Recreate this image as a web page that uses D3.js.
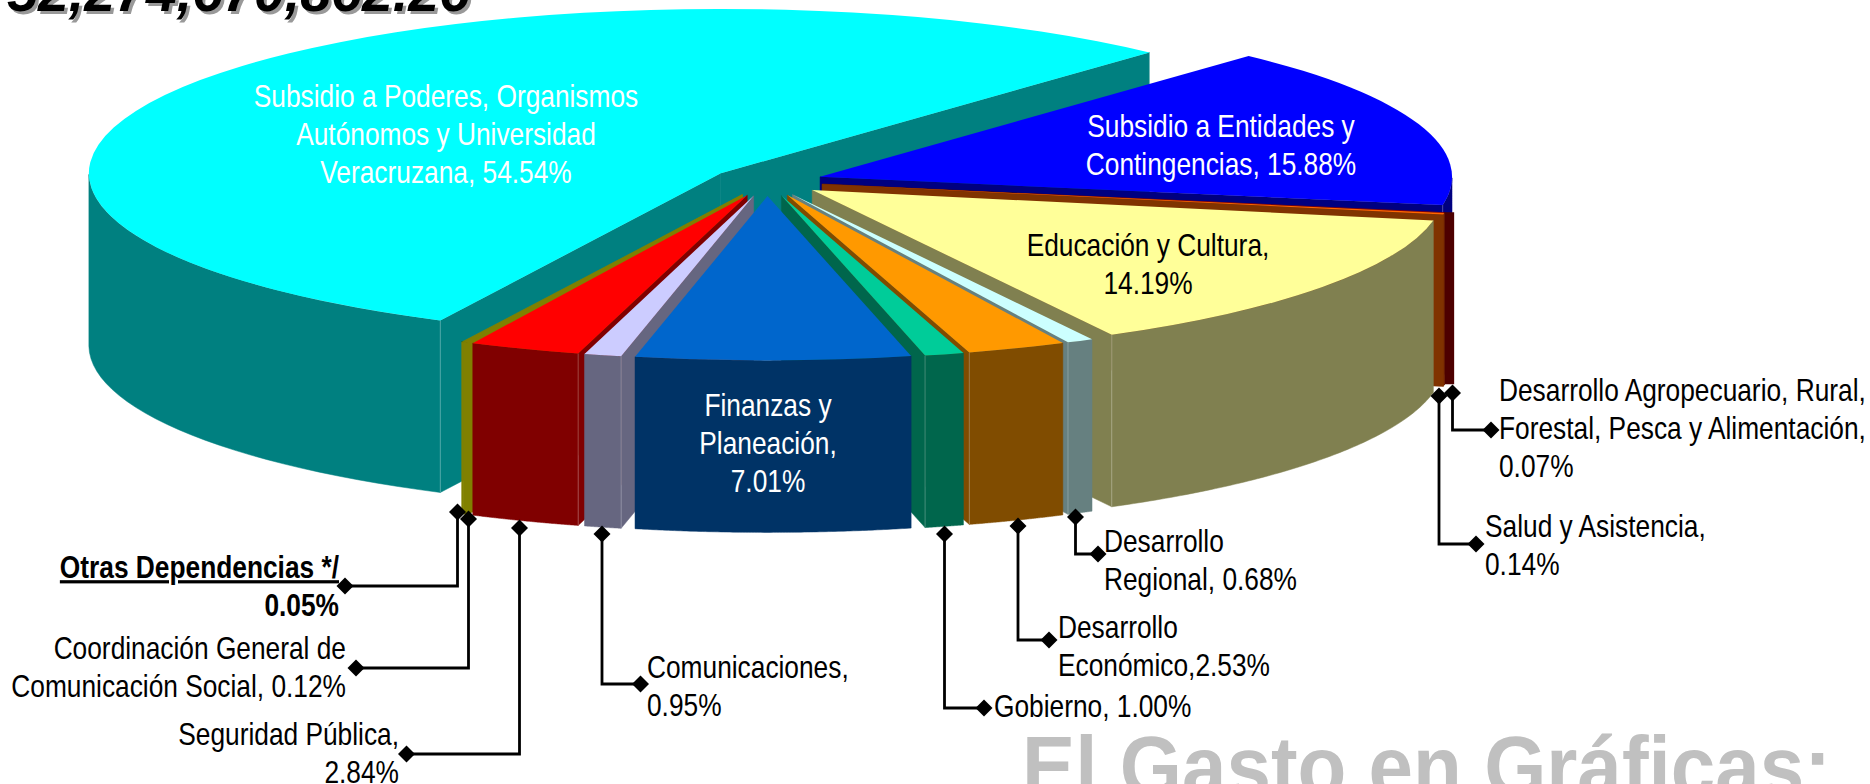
<!DOCTYPE html>
<html>
<head>
<meta charset="utf-8">
<script src="https://cdn.jsdelivr.net/npm/d3@7"></script>
<style>
  html, body { margin: 0; padding: 0; background: #fff; overflow: hidden; }
  text { font-family: "Liberation Sans", Arial, sans-serif; }
</style>
</head>
<body>
<div id="chart"></div>
<script>
// Values, clockwise starting from the back right cut of the pie
var categories = ["Subsidio a Entidades", "Desarrollo Agropecuario", "Salud", "Educación", "Desarrollo Regional", "Desarrollo Económico", "Gobierno", "Finanzas", "Comunicaciones", "Seguridad", "Coordinación", "Otras", "Subsidio a Poderes"];
var values = [15.88, 0.07, 0.14, 14.19, 0.68, 2.53, 1.00, 7.01, 0.95, 2.84, 0.12, 0.05, 54.54];
var topColors = ["#0000FF", "#990000", "#FF6600", "#FFFF99", "#CCFFFF", "#FF9900", "#00CC99", "#0066CC", "#CCCCFF", "#FF0000", "#808000", "#808000", "#00FFFF"];
var sideColors = ["#000080", "#4D0000", "#803300", "#808050", "#668080", "#804C00", "#00664C", "#003366", "#666680", "#800000", "#808000", "#808000", "#008080"];

var titleText = "52,274,670,862.26";
var footerText = "El Gasto en Gráficas:";

// labels inside the slices: [lines, anchor x, first baseline, colour]
var sliceLabels = [
  [["Subsidio a Poderes, Organismos", "Autónomos y Universidad", "Veracruzana, 54.54%"], 446, 107, "#fff"],
  [["Subsidio a Entidades y", "Contingencias, 15.88%"], 1221, 137, "#fff"],
  [["Educación y Cultura,", "14.19%"], 1148, 256, "#000"],
  [["Finanzas y", "Planeación,", "7.01%"], 768, 416, "#fff"]
];

// labels with leader: [lines, anchor, text x, first baseline, leader points, bold]
var leaderLabels = [
  [["Otras Dependencias */", "0.05%"], "end", 339, 578, [[457.5, 512], [457.5, 586], [345, 586]], true],
  [["Coordinación General de", "Comunicación Social, 0.12%"], "end", 346, 659, [[468.5, 519], [468.5, 668], [356, 668]], false],
  [["Seguridad Pública,", "2.84%"], "end", 399, 745, [[519.5, 528], [519.5, 754], [406.5, 754]], false],
  [["Comunicaciones,", "0.95%"], "start", 647, 678, [[602, 534], [602, 684], [640.5, 684]], false],
  [["Gobierno, 1.00%"], "start", 994, 717, [[944.5, 534], [944.5, 708], [984, 708]], false],
  [["Desarrollo", "Económico,2.53%"], "start", 1058, 638, [[1018, 526], [1018, 640], [1049, 640]], false],
  [["Desarrollo", "Regional, 0.68%"], "start", 1104, 552, [[1075.5, 517], [1075.5, 554], [1098, 554]], false],
  [["Salud y Asistencia,", "0.14%"], "start", 1485, 537, [[1439, 396], [1439, 544], [1476, 544]], false],
  [["Desarrollo Agropecuario, Rural,", "Forestal, Pesca y Alimentación,", "0.07%"], "start", 1499, 401, [[1452.5, 393], [1452.5, 430], [1491, 430]], false]
];

var svgWidth = 1870;
var svgHeight = 784;

// pie geometry
var cx = 767, cy = 181.5;
var R = 632, tilt = 0.26, depth = 172, explode = 56;
var firstAngle = 42.7 * Math.PI / 180;
var lineHeight = 38;
var fontSize = 32;
var squeeze = 0.822;

var svg = d3.select("#chart")
  .append("svg")
  .attr("width", svgWidth)
  .attr("height", svgHeight)
  .style("display", "block");

var pie = d3.pie().sort(null)
  .startAngle(firstAngle)
  .endAngle(firstAngle + 2 * Math.PI);

var slices = pie(values).map(function(d, i) {
  var mid = (d.startAngle + d.endAngle) / 2;
  d.name = categories[i];
  d.top = topColors[i];
  d.side = sideColors[i];
  d.mid = mid;
  d.x = cx + explode * Math.sin(mid);
  d.y = cy - explode * tilt * Math.cos(mid);
  return d;
});

function rimPoint(d, a) {
  return [d.x + R * Math.sin(a), d.y - R * tilt * Math.cos(a)];
}

var line = d3.line();
var arc = d3.arc().innerRadius(0).outerRadius(R);

// a radial cut only shows when it turns towards the viewer
function visibleWalls(d) {
  var walls = [];
  if (Math.cos(d.startAngle - Math.PI / 2) < 0) walls.push(d.startAngle);
  if (Math.cos(d.endAngle - Math.PI / 2) > 0) walls.push(d.endAngle);
  return walls;
}

function rimPath(d) {
  var pts = [];
  var steps = 90;
  for (var s = 0; s <= steps; s++) {
    var a = d.startAngle + (d.endAngle - d.startAngle) * s / steps;
    // keep the front half of the rim only
    if (Math.cos(a) < 0.0001) pts.push(rimPoint(d, a));
  }
  if (!pts.length) return null;
  var bottom = pts.map(function(p) { return [p[0], p[1] + depth]; }).reverse();
  return line(pts.concat(bottom)) + "Z";
}

function wallPath(d, a) {
  var p = rimPoint(d, a);
  return line([[d.x, d.y], p, [p[0], p[1] + depth], [d.x, d.y + depth]]) + "Z";
}

// the thin agro slice is drawn out to the widest point of the pie in the original
function widenedRim(d) {
  var p = rimPoint(d, d.startAngle);
  var right = d.x + R;
  return line([p, [right, p[1]], [right, p[1] + depth], [p[0], p[1] + depth]]) + "Z";
}

// back slices first, front slices last
var order = slices.slice().sort(function(a, b) {
  return (-Math.cos(a.mid)) - (-Math.cos(b.mid));
});

var pieGroup = svg.append("g");

order.forEach(function(d) {
  var g = pieGroup.append("g");
  var rim = rimPath(d);
  if (rim) g.append("path").attr("d", rim).attr("fill", d.side).attr("stroke", d.side).attr("stroke-width", 0.5);
  if (d.name === "Desarrollo Agropecuario") {
    g.append("path").attr("d", widenedRim(d)).attr("fill", d.side);
  }
  visibleWalls(d).forEach(function(a) {
    g.append("path").attr("d", wallPath(d, a)).attr("fill", d.side).attr("stroke", d.side).attr("stroke-width", 0.5);
    var p = rimPoint(d, a);
    if (d.endAngle - d.startAngle > 0.04) {
      g.append("path")
        .attr("d", line([p, [p[0], p[1] + depth]]))
        .attr("stroke", "#fff").attr("stroke-opacity", 0.25).attr("fill", "none");
    }
  });
  g.append("path")
    .attr("d", arc(d))
    .attr("transform", "translate(" + d.x + "," + d.y + ") scale(1," + tilt + ")")
    .attr("fill", d.top);
});

function drawLines(lines, x, y, anchor, color, bold, underlineFirst) {
  var g = svg.append("g").attr("transform", "translate(" + x + "," + y + ") scale(" + squeeze + ",1)");
  lines.forEach(function(t, i) {
    g.append("text")
      .attr("y", i * lineHeight)
      .attr("text-anchor", anchor)
      .attr("font-size", fontSize)
      .attr("font-weight", bold ? "bold" : "normal")
      .attr("fill", color)
      .attr("text-decoration", underlineFirst && i === 0 ? "underline" : null)
      .text(t);
  });
}

sliceLabels.forEach(function(l) {
  drawLines(l[0], l[1], l[2], "middle", l[3], false, false);
});

var diamond = d3.symbol().type(d3.symbolSquare).size(145);

leaderLabels.forEach(function(l) {
  var pts = l[4];
  svg.append("path")
    .attr("d", line(pts))
    .attr("fill", "none")
    .attr("stroke", "#000")
    .attr("stroke-width", 2.8);
  [pts[0], pts[pts.length - 1]].forEach(function(p) {
    svg.append("path")
      .attr("d", diamond())
      .attr("transform", "translate(" + p[0] + "," + p[1] + ") rotate(45)")
      .attr("fill", "#000");
  });
  drawLines(l[0], l[2], l[3], l[1], "#000", l[5], l[5]);
});

// title, cut off by the top of the page
[["#999", 3, 3], ["#000", 0, 0]].forEach(function(s) {
  svg.append("text")
    .attr("x", 470 + s[1])
    .attr("y", 11 + s[2])
    .attr("text-anchor", "end")
    .attr("font-size", 55.5)
    .attr("font-weight", "bold")
    .attr("font-style", "italic")
    .attr("fill", s[0])
    .text(titleText);
});

// footer, cut off by the bottom of the page
svg.append("g")
  .attr("transform", "translate(1022,796) scale(0.93,1)")
  .append("text")
  .attr("font-size", 86)
  .attr("font-weight", "bold")
  .attr("fill", "#C0C0C0")
  .text(footerText);
</script>
</body>
</html>
